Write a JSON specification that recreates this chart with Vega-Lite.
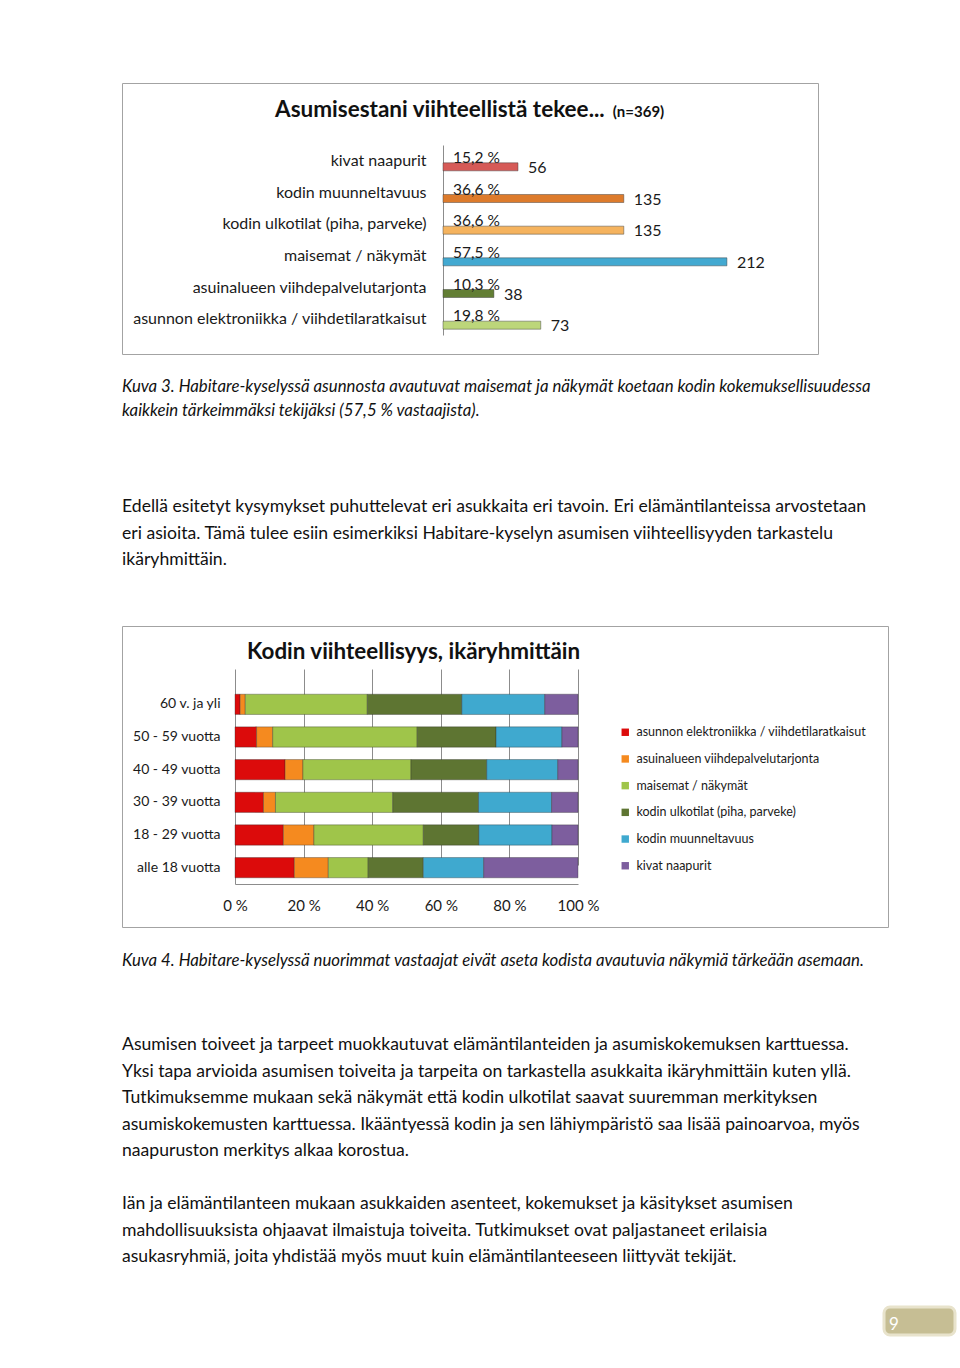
{
  "$schema": "https://vega.github.io/schema/vega-lite/v6.json",
  "background": "white",
  "padding": {"left": 121, "top": 82, "right": 0, "bottom": 0},
  "spacing": 0,
  "resolve": {"scale": {"color": "independent"}, "legend": {"color": "independent"}},
  "config": {
    "font": "Lato",
    "view": {"stroke": null},
    "title": {"font": "Lato", "color": "#111111"},
    "axis": {"labelFont": "Lato", "titleFont": "Lato", "labelColor": "#1a1a1a", "titleColor": "#1a1a1a"},
    "legend": {"labelFont": "Lato", "labelColor": "#1a1a1a"},
    "locale": {"number": {"decimal": ",", "thousands": "\u00a0", "grouping": [3], "currency": ["", "\u00a0€"], "percent": "\u00a0%"}}
  },
  "vconcat": [
    {
      "width": 696,
      "height": 271,
      "view": {"stroke": "#a3a3a3", "strokeWidth": 1},
      "title": {"text": "Asumisestani viihteellistä tekee...", "anchor": "start", "dx": 153, "offset": -49, "baseline": "middle", "fontSize": 22.5, "fontWeight": "bold"},
      "data": {"values": [
        {"item": "kivat naapurit", "n": 56, "share": 0.152},
        {"item": "kodin muunneltavuus", "n": 135, "share": 0.366},
        {"item": "kodin ulkotilat (piha, parveke)", "n": 135, "share": 0.366},
        {"item": "maisemat / näkymät", "n": 212, "share": 0.575},
        {"item": "asuinalueen viihdepalvelutarjonta", "n": 38, "share": 0.103},
        {"item": "asunnon elektroniikka / viihdetilaratkaisut", "n": 73, "share": 0.198}
      ]},
      "encoding": {
        "y": {"field": "item", "type": "nominal", "sort": null,
          "scale": {"range": [62, 252], "paddingInner": 0.747, "paddingOuter": 0.3735},
          "axis": {"orient": "left", "offset": -321, "title": null, "ticks": false, "labelPadding": 17, "labelFontSize": 16, "domainColor": "#8c8c8c", "labelLimit": 500}}
      },
      "layer": [
        {
          "mark": {"type": "bar", "yOffset": 6, "stroke": "#3a3a3a", "strokeOpacity": 0.45, "strokeWidth": 1},
          "encoding": {
            "x": {"field": "n", "type": "quantitative", "scale": {"domain": [0, 263], "range": [321, 696]},
              "axis": {"orient": "top", "title": "(n=369)", "domain": false, "ticks": false, "labels": false, "grid": false, "titleX": 516, "titleY": 28, "titleAlign": "center", "titleBaseline": "middle", "titleFontSize": 15, "titleFontWeight": "bold", "titleColor": "#111111"}},
            "color": {"field": "item", "type": "nominal", "legend": null,
              "scale": {"domain": ["kivat naapurit", "kodin muunneltavuus", "kodin ulkotilat (piha, parveke)", "maisemat / näkymät", "asuinalueen viihdepalvelutarjonta", "asunnon elektroniikka / viihdetilaratkaisut"],
                        "range": ["#d65a57", "#dd7b2c", "#f5b35e", "#43a9d1", "#627e34", "#bcd67a"]}}
          }
        },
        {
          "mark": {"type": "text", "align": "left", "baseline": "middle", "dx": 10, "dy": -3, "fontSize": 15.5, "color": "#1a1a1a"},
          "encoding": {
            "x": {"datum": 0, "type": "quantitative"},
            "text": {"field": "share", "type": "quantitative", "format": ".1%"}
          }
        },
        {
          "mark": {"type": "text", "align": "left", "baseline": "middle", "dx": 10, "dy": 7, "fontSize": 16, "color": "#1a1a1a"},
          "encoding": {
            "x": {"field": "n", "type": "quantitative"},
            "text": {"field": "n", "type": "quantitative"}
          }
        }
      ]
    },
    {
      "width": 780,
      "height": 124,
      "data": {"values": [
        {"line": 1, "text": "Kuva 3. Habitare-kyselyssä asunnosta avautuvat maisemat ja näkymät koetaan kodin kokemuksellisuudessa"},
        {"line": 2, "text": "kaikkein tärkeimmäksi tekijäksi (57,5 % vastaajista)."}
      ]},
      "mark": {"type": "text", "align": "left", "baseline": "middle", "fontSize": 16.8, "fontStyle": "italic", "color": "#111111"},
      "encoding": {
        "x": {"value": 0},
        "y": {"field": "line", "type": "ordinal", "axis": null, "scale": {"range": [32, 56], "padding": 0}},
        "text": {"field": "text", "type": "nominal"}
      }
    },
    {
      "width": 780,
      "height": 146,
      "data": {"values": [
        {"line": 1, "text": "Edellä esitetyt kysymykset puhuttelevat eri asukkaita eri tavoin. Eri elämäntilanteissa arvostetaan"},
        {"line": 2, "text": "eri asioita. Tämä tulee esiin esimerkiksi Habitare-kyselyn asumisen viihteellisyyden tarkastelu"},
        {"line": 3, "text": "ikäryhmittäin."}
      ]},
      "mark": {"type": "text", "align": "left", "baseline": "middle", "fontSize": 17.6, "color": "#111111"},
      "encoding": {
        "x": {"value": 0},
        "y": {"field": "line", "type": "ordinal", "axis": null, "scale": {"range": [28, 81], "padding": 0}},
        "text": {"field": "text", "type": "nominal"}
      }
    },
    {
      "width": 766,
      "height": 301,
      "view": {"stroke": "#a3a3a3", "strokeWidth": 1},
      "title": {"text": "Kodin viihteellisyys, ikäryhmittäin", "anchor": "start", "dx": 125, "offset": -48, "baseline": "middle", "fontSize": 22.4, "fontWeight": "bold"},
      "data": {"values": [
        {"age": "60 v. ja yli", "cat": "asunnon elektroniikka / viihdetilaratkaisut", "k": 1, "pct": 1.5},
        {"age": "60 v. ja yli", "cat": "asuinalueen viihdepalvelutarjonta", "k": 2, "pct": 1.5},
        {"age": "60 v. ja yli", "cat": "maisemat / näkymät", "k": 3, "pct": 35.6},
        {"age": "60 v. ja yli", "cat": "kodin ulkotilat (piha, parveke)", "k": 4, "pct": 27.6},
        {"age": "60 v. ja yli", "cat": "kodin muunneltavuus", "k": 5, "pct": 24.2},
        {"age": "60 v. ja yli", "cat": "kivat naapurit", "k": 6, "pct": 9.7},
        {"age": "50 - 59 vuotta", "cat": "asunnon elektroniikka / viihdetilaratkaisut", "k": 1, "pct": 6.3},
        {"age": "50 - 59 vuotta", "cat": "asuinalueen viihdepalvelutarjonta", "k": 2, "pct": 4.7},
        {"age": "50 - 59 vuotta", "cat": "maisemat / näkymät", "k": 3, "pct": 42.1},
        {"age": "50 - 59 vuotta", "cat": "kodin ulkotilat (piha, parveke)", "k": 4, "pct": 23.0},
        {"age": "50 - 59 vuotta", "cat": "kodin muunneltavuus", "k": 5, "pct": 19.2},
        {"age": "50 - 59 vuotta", "cat": "kivat naapurit", "k": 6, "pct": 4.7},
        {"age": "40 - 49 vuotta", "cat": "asunnon elektroniikka / viihdetilaratkaisut", "k": 1, "pct": 14.6},
        {"age": "40 - 49 vuotta", "cat": "asuinalueen viihdepalvelutarjonta", "k": 2, "pct": 5.2},
        {"age": "40 - 49 vuotta", "cat": "maisemat / näkymät", "k": 3, "pct": 31.5},
        {"age": "40 - 49 vuotta", "cat": "kodin ulkotilat (piha, parveke)", "k": 4, "pct": 22.1},
        {"age": "40 - 49 vuotta", "cat": "kodin muunneltavuus", "k": 5, "pct": 20.7},
        {"age": "40 - 49 vuotta", "cat": "kivat naapurit", "k": 6, "pct": 5.9},
        {"age": "30 - 39 vuotta", "cat": "asunnon elektroniikka / viihdetilaratkaisut", "k": 1, "pct": 8.3},
        {"age": "30 - 39 vuotta", "cat": "asuinalueen viihdepalvelutarjonta", "k": 2, "pct": 3.5},
        {"age": "30 - 39 vuotta", "cat": "maisemat / näkymät", "k": 3, "pct": 34.2},
        {"age": "30 - 39 vuotta", "cat": "kodin ulkotilat (piha, parveke)", "k": 4, "pct": 25.0},
        {"age": "30 - 39 vuotta", "cat": "kodin muunneltavuus", "k": 5, "pct": 21.3},
        {"age": "30 - 39 vuotta", "cat": "kivat naapurit", "k": 6, "pct": 7.7},
        {"age": "18 - 29 vuotta", "cat": "asunnon elektroniikka / viihdetilaratkaisut", "k": 1, "pct": 14.1},
        {"age": "18 - 29 vuotta", "cat": "asuinalueen viihdepalvelutarjonta", "k": 2, "pct": 8.9},
        {"age": "18 - 29 vuotta", "cat": "maisemat / näkymät", "k": 3, "pct": 31.9},
        {"age": "18 - 29 vuotta", "cat": "kodin ulkotilat (piha, parveke)", "k": 4, "pct": 16.2},
        {"age": "18 - 29 vuotta", "cat": "kodin muunneltavuus", "k": 5, "pct": 21.3},
        {"age": "18 - 29 vuotta", "cat": "kivat naapurit", "k": 6, "pct": 7.6},
        {"age": "alle 18 vuotta", "cat": "asunnon elektroniikka / viihdetilaratkaisut", "k": 1, "pct": 17.3},
        {"age": "alle 18 vuotta", "cat": "asuinalueen viihdepalvelutarjonta", "k": 2, "pct": 9.9},
        {"age": "alle 18 vuotta", "cat": "maisemat / näkymät", "k": 3, "pct": 11.6},
        {"age": "alle 18 vuotta", "cat": "kodin ulkotilat (piha, parveke)", "k": 4, "pct": 16.1},
        {"age": "alle 18 vuotta", "cat": "kodin muunneltavuus", "k": 5, "pct": 17.6},
        {"age": "alle 18 vuotta", "cat": "kivat naapurit", "k": 6, "pct": 27.5}
      ]},
      "mark": {"type": "bar", "stroke": "#2b2b2b", "strokeOpacity": 0.35, "strokeWidth": 1},
      "encoding": {
        "y": {"field": "age", "type": "nominal",
          "sort": ["60 v. ja yli", "50 - 59 vuotta", "40 - 49 vuotta", "30 - 39 vuotta", "18 - 29 vuotta", "alle 18 vuotta"],
          "scale": {"range": [62, 258], "paddingInner": 0.38, "paddingOuter": 0.19},
          "axis": {"orient": "left", "offset": -113, "title": null, "ticks": false, "labelPadding": 15, "labelFontSize": 14, "domainColor": "#8c8c8c", "labelLimit": 300}},
        "x": {"field": "pct", "type": "quantitative", "stack": "normalize",
          "scale": {"domain": [0, 1], "range": [113, 456]},
          "axis": {"orient": "bottom", "offset": -43, "format": ".0%", "values": [0, 0.2, 0.4, 0.6, 0.8, 1], "grid": true, "gridColor": "#8c8c8c", "gridOpacity": 1, "ticks": false, "domainColor": "#8c8c8c", "labelPadding": 14, "labelFontSize": 15, "title": null, "labelFlush": false}},
        "color": {"field": "cat", "type": "nominal",
          "scale": {"domain": ["asunnon elektroniikka / viihdetilaratkaisut", "asuinalueen viihdepalvelutarjonta", "maisemat / näkymät", "kodin ulkotilat (piha, parveke)", "kodin muunneltavuus", "kivat naapurit"],
                    "range": ["#dc0b0b", "#f58a1f", "#9fc54a", "#5e7532", "#3fa9cf", "#7d5e9e"]},
          "legend": {"orient": "none", "legendX": 497, "legendY": 100, "title": null, "symbolType": "square", "symbolSize": 55, "symbolStrokeWidth": 0, "labelFontSize": 12.5, "rowPadding": 13.7, "padding": 0, "labelOffset": 5, "labelLimit": 400}},
        "order": {"field": "k", "type": "quantitative"}
      }
    },
    {
      "width": 780,
      "height": 82,
      "data": {"values": [
        {"line": 1, "text": "Kuva 4. Habitare-kyselyssä nuorimmat vastaajat eivät aseta kodista avautuvia näkymiä tärkeään asemaan."}
      ]},
      "mark": {"type": "text", "align": "left", "baseline": "middle", "fontSize": 16.8, "fontStyle": "italic", "color": "#111111"},
      "encoding": {
        "x": {"value": 0},
        "y": {"field": "line", "type": "ordinal", "axis": null, "scale": {"range": [33, 33], "padding": 0}},
        "text": {"field": "text", "type": "nominal"}
      }
    },
    {
      "width": 780,
      "height": 165,
      "data": {"values": [
        {"line": 1, "text": "Asumisen toiveet ja tarpeet muokkautuvat elämäntilanteiden ja asumiskokemuksen karttuessa."},
        {"line": 2, "text": "Yksi tapa arvioida asumisen toiveita ja tarpeita on tarkastella asukkaita ikäryhmittäin kuten yllä."},
        {"line": 3, "text": "Tutkimuksemme mukaan sekä näkymät että kodin ulkotilat saavat suuremman merkityksen"},
        {"line": 4, "text": "asumiskokemusten karttuessa. Ikääntyessä kodin ja sen lähiympäristö saa lisää painoarvoa, myös"},
        {"line": 5, "text": "naapuruston merkitys alkaa korostua."}
      ]},
      "mark": {"type": "text", "align": "left", "baseline": "middle", "fontSize": 17.6, "color": "#111111"},
      "encoding": {
        "x": {"value": 0},
        "y": {"field": "line", "type": "ordinal", "axis": null, "scale": {"range": [35, 141], "padding": 0}},
        "text": {"field": "text", "type": "nominal"}
      }
    },
    {
      "width": 780,
      "height": 130,
      "data": {"values": [
        {"line": 1, "text": "Iän ja elämäntilanteen mukaan asukkaiden asenteet, kokemukset ja käsitykset asumisen"},
        {"line": 2, "text": "mahdollisuuksista ohjaavat ilmaistuja toiveita. Tutkimukset ovat paljastaneet erilaisia"},
        {"line": 3, "text": "asukasryhmiä, joita yhdistää myös muut kuin elämäntilanteeseen liittyvät tekijät."}
      ]},
      "mark": {"type": "text", "align": "left", "baseline": "middle", "fontSize": 17.6, "color": "#111111"},
      "encoding": {
        "x": {"value": 0},
        "y": {"field": "line", "type": "ordinal", "axis": null, "scale": {"range": [29, 82], "padding": 0}},
        "text": {"field": "text", "type": "nominal"}
      }
    },
    {
      "spacing": 0,
      "hconcat": [
        {
          "width": 760,
          "height": 30,
          "data": {"values": []},
          "mark": "text"
        },
        {
          "width": 71,
          "height": 28,
          "view": {"fill": "#c6be94", "stroke": "#e8e3cc", "strokeWidth": 3, "cornerRadius": 6},
          "title": {"text": "9", "anchor": "start", "dx": 5, "offset": -35, "baseline": "middle", "fontSize": 17, "fontWeight": "normal", "color": "#ffffff"},
          "data": {"values": []},
          "mark": "text"
        }
      ]
    }
  ]
}
